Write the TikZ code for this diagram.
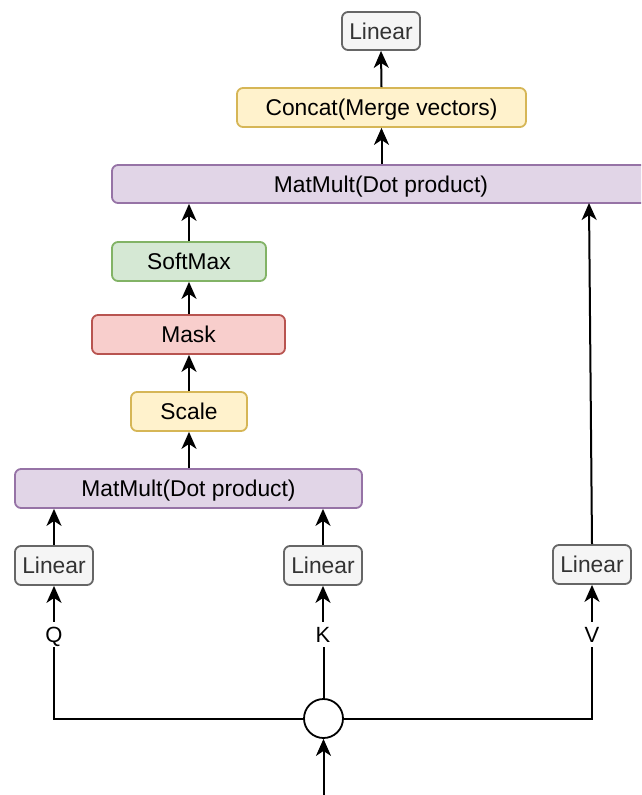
\documentclass[tikz,border=0pt]{standalone}
\usepackage{fontspec}
\setmainfont{Liberation Sans}
\usetikzlibrary{arrows.meta}

\definecolor{grayfill}{HTML}{F5F5F5}
\definecolor{graydraw}{HTML}{666666}
\definecolor{graytext}{HTML}{333333}
\definecolor{yelfill}{HTML}{FFF2CC}
\definecolor{yeldraw}{HTML}{D6B656}
\definecolor{purfill}{HTML}{E1D5E7}
\definecolor{purdraw}{HTML}{9673A6}
\definecolor{grnfill}{HTML}{D5E8D4}
\definecolor{grndraw}{HTML}{82B366}
\definecolor{redfill}{HTML}{F8CECC}
\definecolor{reddraw}{HTML}{B85450}

\tikzset{
  box/.style={draw, rounded corners=6pt, line width=1.8pt, minimum height=39pt,
    inner sep=0pt, text height=16pt, text depth=0pt,
    font=\fontsize{22.8}{27}\selectfont},
  graybox/.style={box, fill=grayfill, draw=graydraw, text=graytext, minimum width=78pt},
  yelbox/.style={box, fill=yelfill, draw=yeldraw},
  purbox/.style={box, fill=purfill, draw=purdraw},
  grnbox/.style={box, fill=grnfill, draw=grndraw},
  redbox/.style={box, fill=redfill, draw=reddraw},
  arr/.style={line width=2pt, -{Stealth[length=17pt,width=15pt,inset=5pt]}},
  plain/.style={line width=2pt},
  qkv/.style={fill=white, inner sep=0pt, minimum height=25pt, text height=16pt, text depth=0pt,
    font=\fontsize{22}{26}\selectfont},
}

\begin{document}
\begin{tikzpicture}[x=1pt, y=-1pt]
\clip (0,0) rectangle (641,795);
\fill[white] (0,0) rectangle (641,795);

% output stage
\node[graybox, minimum height=38pt] (linTop) at (381,31) {Linear};
\node[yelbox, minimum width=289pt] (concat) at (381.5,107.5) {Concat(Merge vectors)};
\node[purbox, minimum width=538pt, minimum height=38pt] (mmTop) at (381,184) {MatMult(Dot product)};

% attention scores
\node[grnbox, minimum width=154pt] (softmax) at (189,261.5) {SoftMax};
\node[redbox, minimum width=193pt] (mask) at (188.5,334.5) {Mask};
\node[yelbox, minimum width=116pt] (scale) at (189,411.5) {Scale};
\node[purbox, minimum width=347pt] (mmBot) at (188.5,488.5) {MatMult(Dot product)};

% projections
\node[graybox] (linQ) at (54,565.5) {Linear};
\node[graybox] (linK) at (323,565.5) {Linear};
\node[graybox] (linV) at (592,564.5) {Linear};

\node[qkv] (qlab) at (54,634.5) {Q};
\node[qkv] (klab) at (323,634.5) {K};
\node[qkv] (vlab) at (592,634.5) {V};

% input split
\node[draw, circle, line width=1.8pt, fill=white, minimum size=39pt, inner sep=0pt] (split) at (323.5,718.5) {};
\coordinate (input) at (323.5,795);
\coordinate (vtip) at (589,203);

\draw[arr] (input) -- (split.south);
\draw[plain] (split.west) -| (qlab.south);
\draw[plain] (split.north) -- (split.north |- klab.south);
\draw[plain] (split.east) -| (vlab.south);
\draw[arr] (qlab.north) -- (linQ.south);
\draw[arr] (klab.north) -- (linK.south);
\draw[arr] (vlab.north) -- (linV.south);

\draw[arr] (linQ.north) -- (linQ.north |- mmBot.south);
\draw[arr] (linK.north) -- (linK.north |- mmBot.south);
\draw[arr] (linV.north) -- (vtip);

\draw[arr] (mmBot.north -| scale.south) -- (scale.south);
\draw[arr] (scale.north) -- (scale.north |- mask.south);
\draw[arr] (scale.north |- mask.north) -- (scale.north |- softmax.south);
\draw[arr] (scale.north |- softmax.north) -- (scale.north |- mmTop.south);

\draw[arr] (mmTop.north -| concat.south) -- (concat.south);
\draw[arr] (concat.north) -- (linTop.south);
\end{tikzpicture}
\end{document}
